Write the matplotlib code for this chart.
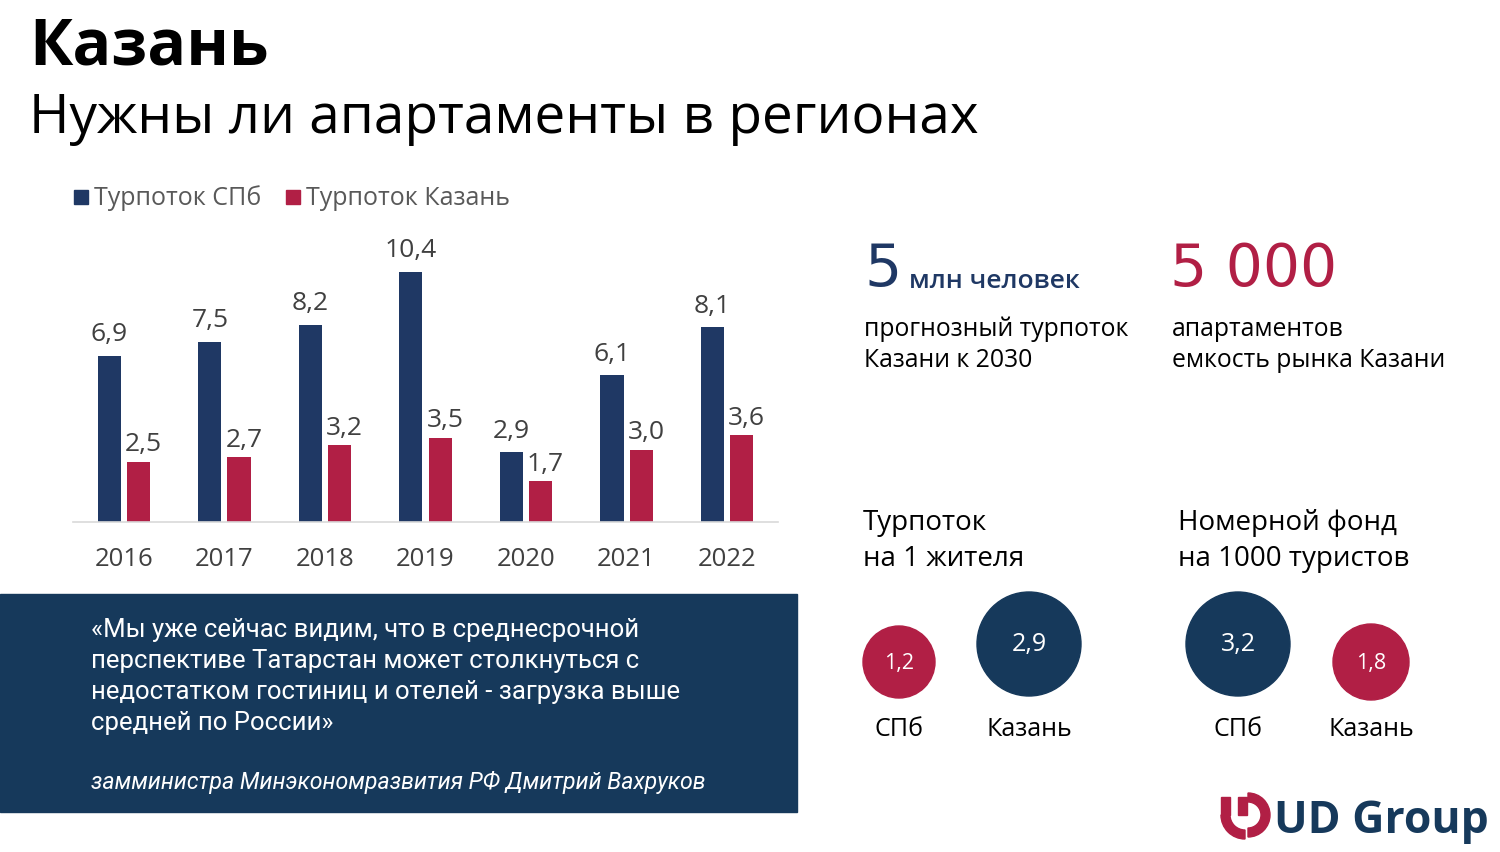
import matplotlib
matplotlib.use("Agg")
import matplotlib.pyplot as plt
from matplotlib.patches import Rectangle, Circle, Wedge

plt.rcParams['font.family'] = ['Open Sans', 'DejaVu Sans']

years = ["2016", "2017", "2018", "2019", "2020", "2021", "2022"]
spbFlow = [6.9, 7.5, 8.2, 10.4, 2.9, 6.1, 8.1]
kazanFlow = [2.5, 2.7, 3.2, 3.5, 1.7, 3.0, 3.6]
seriesNames = ["Турпоток СПб", "Турпоток Казань"]

perResident = [1.2, 2.9]
roomsPer1000 = [3.2, 1.8]
cityLabels = ["СПб", "Казань"]

NAVY = "#1f3864"
DARKNAVY = "#16395b"
RED = "#b11f45"
GRAY = "#404040"

W, H = 1500, 853
fig = plt.figure(figsize=(15, 8.53), dpi=100)
fig.patch.set_facecolor("white")


def fx(x):
    return x / W


def fy(y):
    return 1 - y / H


# bar chart: baseline at y=523, about 24 px per unit
axTop = 523 - 11 * 24.04
ax = fig.add_axes([fx(73), fy(523), fx(778 - 73), (523 - axTop) / H])
ax.set_xlim(-0.507, 6.507)
ax.set_ylim(0, 11)
x = list(range(len(years)))
bw = 0.23
off = 0.145
ax.bar([i - off for i in x], spbFlow, width=bw, color=NAVY)
ax.bar([i + off for i in x], kazanFlow, width=bw, color=RED)
for i, v in enumerate(spbFlow):
    ax.annotate(f"{v:.1f}".replace(".", ","), (i - off, v), xytext=(0, 7),
                textcoords="offset points", ha="center", va="bottom",
                fontsize=19, color=GRAY)
for i, v in enumerate(kazanFlow):
    ax.annotate(f"{v:.1f}".replace(".", ","), (i + off + 0.05, v), xytext=(0, 4),
                textcoords="offset points", ha="center", va="bottom",
                fontsize=19, color=GRAY)
ax.set_xticks(x)
ax.set_xticklabels(years, fontsize=18.5, color=GRAY)
ax.tick_params(axis="x", length=0, pad=17)
ax.set_yticks([])
for s in ["top", "right", "left"]:
    ax.spines[s].set_visible(False)
ax.spines["bottom"].set_color("#d9d9d9")
ax.spines["bottom"].set_linewidth(1.2)
ax.patch.set_alpha(0)

# overlay axes in pixel coords for everything else
ov = fig.add_axes([0, 0, 1, 1])
ov.set_xlim(0, W)
ov.set_ylim(H, 0)
ov.axis("off")
ov.patch.set_alpha(0)

# titles
ov.text(29, 48, "Казань", fontsize=46.5, fontweight="bold", color="black", va="center")
ov.text(29, 118, "Нужны ли апартаменты в регионах", fontsize=39.5, color="black", va="center")

# legend
ov.add_patch(Rectangle((74, 191), 14, 14, color=NAVY))
ov.text(94, 198, seriesNames[0], fontsize=18, color="#595959", va="center")
ov.add_patch(Rectangle((286, 191), 14, 14, color=RED))
ov.text(306, 198, seriesNames[1], fontsize=18, color="#595959", va="center")

# quote box
ov.add_patch(Rectangle((0, 595), 797, 218, color=DARKNAVY))
quote = ("«Мы уже сейчас видим, что в среднесрочной\n"
         "перспективе Татарстан может столкнуться с\n"
         "недостатком гостиниц и отелей - загрузка выше\n"
         "средней по России»")
ov.text(91, 618, quote, fontsize=18.5, color="white", va="top", linespacing=1.36,
        family=["Roboto", "DejaVu Sans"])
ov.text(91, 783, "замминистра Минэкономразвития РФ Дмитрий Вахруков", fontsize=16.7,
        color="white", style="italic", va="center", family=["Roboto", "DejaVu Sans"])

# key figures
ov.text(864, 269, "5", fontsize=42, color=NAVY, va="center", family=["DejaVu Sans"])
ov.text(909, 281, "млн человек", fontsize=19, color=NAVY, fontweight="semibold", va="center")
ov.text(864, 345, "прогнозный турпоток\nКазани к 2030", fontsize=17.8, color="black",
        va="center", linespacing=1.33)
ov.text(1170, 269, "5 000", fontsize=42, color=RED, va="center", family=["DejaVu Sans"])
ov.text(1172, 345, "апартаментов\nемкость рынка Казани", fontsize=17.8, color="black",
        va="center", linespacing=1.33)

ov.text(863, 541, "Турпоток\nна 1 жителя", fontsize=20, color="black", va="center",
        linespacing=1.36)
ov.text(1178, 541, "Номерной фонд\nна 1000 туристов", fontsize=20, color="black",
        va="center", linespacing=1.36)

# circles
circleSpecs = [
    (899, 663, 36, RED, perResident[0], cityLabels[0], 15.5),
    (1029, 645, 52, DARKNAVY, perResident[1], cityLabels[1], 18),
    (1238, 645, 52, DARKNAVY, roomsPer1000[0], cityLabels[0], 18),
    (1371, 663, 38, RED, roomsPer1000[1], cityLabels[1], 15.5),
]
for cx, cy, r, c, val, lab, fs in circleSpecs:
    ov.add_patch(Circle((cx, cy), r, color=c))
    ov.text(cx, cy, f"{val:.1f}".replace(".", ","), fontsize=fs, color="white",
            ha="center", va="center")
    ov.text(cx, 730, lab, fontsize=18, color="black", ha="center", va="center")

# logo icon
ov.add_patch(Rectangle((1221, 798), 9, 18, color=RED))
ov.add_patch(Wedge((1245, 816), 24, 90, 180, width=9, color=RED))
ov.add_patch(Wedge((1248, 816), 22, -90, 90, width=9, color=RED))
ov.add_patch(Rectangle((1238, 798), 9, 18, color=RED))
ov.text(1274, 822, "UD Group", fontsize=32, fontweight="bold", color=DARKNAVY,
        va="center", family=["Open Sans", "DejaVu Sans"])

fig.savefig("out.png", dpi=100, facecolor="white")
